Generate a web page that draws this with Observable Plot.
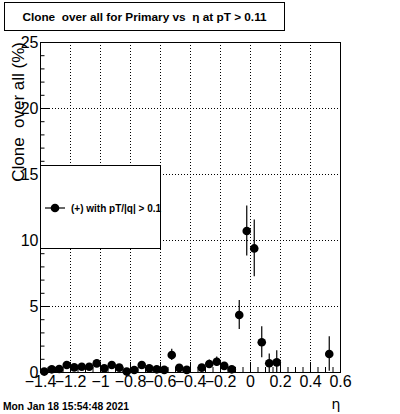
<!DOCTYPE html>
<html><head><meta charset="utf-8">
<script src="https://cdn.jsdelivr.net/npm/d3@7"></script>
<script src="https://cdn.jsdelivr.net/npm/@observablehq/plot@0.6"></script>
<style>
html,body{margin:0;padding:0;background:#fff;}
#chart{position:relative;width:400px;height:414px;}
</style></head>
<body><div id="chart"></div>
<script>
const eta = [-1.375,-1.325,-1.275,-1.225,-1.175,-1.125,-1.075,-1.025,-0.975,-0.925,-0.875,-0.825,-0.775,-0.725,-0.675,-0.625,-0.575,-0.525,-0.475,-0.425,-0.325,-0.275,-0.225,-0.175,-0.125,-0.075,-0.025,0.025,0.075,0.125,0.175,0.525];
const clone = [0.07,0.24,0.27,0.57,0.39,0.44,0.44,0.69,0.32,0.57,0.37,0.07,0.19,0.57,0.32,0.24,0.2,1.33,0.35,0.2,0.37,0.64,0.82,0.5,0.24,4.36,10.72,9.4,2.29,0.7,0.77,1.4];
const err = [0.07,0.15,0.15,0.2,0.18,0.18,0.18,0.25,0.15,0.2,0.17,0.07,0.12,0.2,0.15,0.13,0.14,0.43,0.2,0.14,0.2,0.3,0.35,0.25,0.17,1.1,1.9,2.15,1.17,0.7,0.88,1.3];
const xMajor = [-1.4,-1.2,-1,-0.8,-0.6,-0.4,-0.2,0,0.2,0.4,0.6];
const xMinor = [-1.35,-1.3,-1.25,-1.15,-1.1,-1.05,-0.95,-0.9,-0.85,-0.75,-0.7,-0.65,-0.55,-0.5,-0.45,-0.35,-0.3,-0.25,-0.15,-0.1,-0.05,0.05,0.1,0.15,0.25,0.3,0.35,0.45,0.5,0.55];
const yMajor = [0,5,10,15,20,25];
const yMinor = [1,2,3,4,6,7,8,9,11,12,13,14,16,17,18,19,21,22,23,24];
const titleText = "Clone  over all for Primary vs  \u03b7 at pT > 0.11";
const yTitle = "Clone  over all (%)";
const xTitle = "\u03b7";
const legendText = "(+) with pT/|q| > 0.1";
const dateText = "Mon Jan 18 15:54:48 2021";

const data = eta.map((e,i)=>({eta:e, v:clone[i], lo:Math.max(0,clone[i]-err[i]), hi:clone[i]+err[i]}));

const plot = Plot.plot({
  width: 400, height: 414,
  marginLeft: 40, marginRight: 60, marginTop: 42, marginBottom: 42,
  style: {fontFamily: "Liberation Sans, Arial, sans-serif", color: "black", background: "white", overflow: "visible"},
  x: {domain: [-1.4, 0.6]},
  y: {domain: [0, 25]},
  marks: [
    Plot.gridX(xMajor, {stroke: "black", strokeOpacity: 1, strokeDasharray: "1,2"}),
    Plot.gridY(yMajor, {stroke: "black", strokeOpacity: 1, strokeDasharray: "1,2"}),
    Plot.ruleX(xMajor, {x: d=>d, insetTop: 320, stroke: "black"}),
    Plot.ruleX(xMinor, {x: d=>d, insetTop: 325, stroke: "black"}),
    Plot.ruleY(yMajor, {y: d=>d, insetRight: 291, stroke: "black"}),
    Plot.ruleY(yMinor, {y: d=>d, insetRight: 295.5, stroke: "black"}),
    Plot.axisX(xMajor, {tickSize: 0, tickPadding: 3, fontSize: 16, label: null, tickFormat: d3.format("")}),
    Plot.axisY(yMajor, {tickSize: 0, tickPadding: 2, fontSize: 16, label: null}),
    Plot.frame({stroke: "black"}),
    Plot.ruleX(data, {x: "eta", y1: "lo", y2: "hi", stroke: "black", strokeWidth: 1.2}),
    Plot.dot(data, {x: "eta", y: "v", r: 4.3, fill: "black", stroke: "none"})
  ]
});
document.getElementById("chart").appendChild(plot);
const svg = d3.select(plot);
const FF = "Liberation Sans, Arial, sans-serif";
// y title
svg.append("text").attr("transform","translate(24,42) rotate(-90)")
  .attr("text-anchor","end").attr("font-size",17).attr("font-family",FF)
  .attr("fill","black").text(yTitle);
// x title
svg.append("text").attr("x",336).attr("y",409).attr("text-anchor","middle")
  .attr("font-size",14).attr("font-family","DejaVu Sans, sans-serif").attr("fill","black").text(xTitle);
// title box
svg.append("rect").attr("x",4.5).attr("y",2.5).attr("width",280).attr("height",28).attr("fill","white").attr("stroke","black");
svg.append("text").attr("x",144.5).attr("y",21).attr("text-anchor","middle")
  .attr("font-size",11.8).attr("font-weight","bold").attr("font-family",FF)
  .attr("fill","black").text(titleText);
// legend
svg.append("rect").attr("x",40.5).attr("y",165.5).attr("width",120).attr("height",83).attr("fill","white").attr("stroke","black");
svg.append("line").attr("x1",45).attr("x2",65).attr("y1",208).attr("y2",208).attr("stroke","black").attr("stroke-width",1.2);
svg.append("circle").attr("cx",55).attr("cy",208).attr("r",4.3).attr("fill","black");
svg.append("text").attr("x",71).attr("y",211.5).attr("text-anchor","start").attr("font-size",10).attr("font-weight","bold")
  .attr("font-family",FF).attr("fill","black").text(legendText);
// date
svg.append("text").attr("x",3).attr("y",410).attr("text-anchor","start").attr("font-size",10.3).attr("font-weight","bold")
  .attr("font-family",FF).attr("fill","black").text(dateText);
</script>
</body></html>
